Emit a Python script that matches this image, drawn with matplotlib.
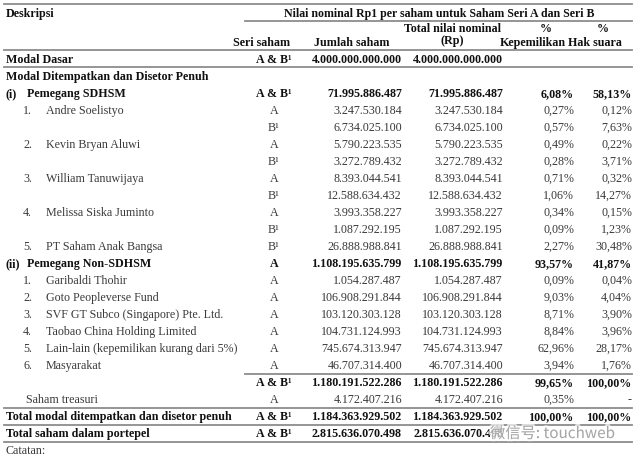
import matplotlib.pyplot as plt
import matplotlib.patheffects as pe

# table content
labels = ["Modal Dasar", "Modal Ditempatkan dan Disetor Penuh", "Pemegang SDHSM",
          "Andre Soelistyo", "", "Kevin Bryan Aluwi", "", "William Tanuwijaya", "",
          "Melissa Siska Juminto", "", "PT Saham Anak Bangsa", "Pemegang Non-SDHSM",
          "Garibaldi Thohir", "Goto Peopleverse Fund", "SVF GT Subco (Singapore) Pte. Ltd.",
          "Taobao China Holding Limited", "Lain-lain (kepemilikan kurang dari 5%)",
          "Masyarakat", "", "Saham treasuri", "Total modal ditempatkan dan disetor penuh",
          "Total saham dalam portepel", "Catatan:"]
numbers = ["", "", "(i)", "1.", "", "2.", "", "3.", "", "4.", "", "5.", "(ii)",
           "1.", "2.", "3.", "4.", "5.", "6.", "", "", "", "", ""]
seri = ["A & B¹", "", "A & B¹", "A", "B¹", "A", "B¹", "A", "B¹", "A", "B¹", "B¹", "A",
        "A", "A", "A", "A", "A", "A", "A & B¹", "A", "A & B¹", "A & B¹", ""]
jumlah = ["4.000.000.000.000", "", "71.995.886.487", "3.247.530.184", "6.734.025.100",
          "5.790.223.535", "3.272.789.432", "8.393.044.541", "12.588.634.432",
          "3.993.358.227", "1.087.292.195", "26.888.988.841", "1.108.195.635.799",
          "1.054.287.487", "106.908.291.844", "103.120.303.128", "104.731.124.993",
          "745.674.313.947", "46.707.314.400", "1.180.191.522.286", "4.172.407.216",
          "1.184.363.929.502", "2.815.636.070.498", ""]
total_rp = list(jumlah)
kepemilikan = ["", "", "6,08%", "0,27%", "0,57%", "0,49%", "0,28%", "0,71%", "1,06%",
               "0,34%", "0,09%", "2,27%", "93,57%", "0,09%", "9,03%", "8,71%", "8,84%",
               "62,96%", "3,94%", "99,65%", "0,35%", "100,00%", "", ""]
hak_suara = ["", "", "58,13%", "0,12%", "7,63%", "0,22%", "3,71%", "0,32%", "14,27%",
             "0,15%", "1,23%", "30,48%", "41,87%", "0,04%", "4,04%", "3,90%", "3,96%",
             "28,17%", "1,76%", "100,00%", "-", "100,00%", "", ""]

bold_rows = {0, 1, 2, 12, 19, 21, 22}
indented = {3, 5, 7, 9, 11, 13, 14, 15, 16, 17, 18}

W, H = 640, 459
fig = plt.figure(figsize=(W / 100, H / 100), dpi=100)
fig.patch.set_facecolor("white")
plt.rcParams['font.family'] = ['Liberation Serif', 'DejaVu Serif']
FS = 8.65


def txt(x, y, s, ha="left", bold=False, size=FS, **kw):
    fig.text(x / W, 1 - y / H, s, ha=ha, va="baseline", fontsize=size,
             fontweight="bold" if bold else "normal",
             color="#111111" if bold else "#3a3a3a", **kw)


def hline(y, x0=4, x1=632):
    fig.add_artist(plt.Line2D([x0 / W, x1 / W], [1 - y / H, 1 - y / H],
                              color="#8c8c8c", lw=1.3))


# header
txt(6, 17, "Deskripsi", bold=True)
txt(439, 17, "Nilai nominal Rp1 per saham untuk Saham Seri A dan Seri B", ha="center",
    bold=True, size=8.6)
txt(290, 46, "Seri saham", ha="right", bold=True)
txt(390, 46, "Jumlah saham", ha="right", bold=True)
txt(452, 32, "Total nilai nominal", ha="center", bold=True)
txt(452, 44, "(Rp)", ha="center", bold=True)
txt(546, 32, "%", ha="center", bold=True)
txt(533, 46, "Kepemilikan", ha="center", bold=True)
txt(603, 32, "%", ha="center", bold=True)
txt(595, 46, "Hak suara", ha="center", bold=True)

for ly, (x0, x1) in [(4, (4, 632)), (21, (245, 632)), (50, (4, 632)), (67, (4, 632)),
                     (374, (245, 632)), (408, (4, 632)), (425, (4, 632)), (442, (4, 632))]:
    hline(ly, x0, x1)

# body rows
for i in range(len(labels)):
    yc = 59 if i == 0 else 76 + 17 * (i - 1)
    yb = yc + 4
    b = i in bold_rows
    if numbers[i].startswith("("):
        txt(6, yb, numbers[i], bold=True)
        txt(27, yb, labels[i], bold=True)
    elif i in indented:
        txt(32, yb, numbers[i], ha="right")
        txt(46, yb, labels[i])
    elif i == 20:
        txt(26, yb, labels[i])
    else:
        txt(6, yb, labels[i], bold=b)
    txt(274, yb, seri[i], ha="center", bold=b)
    txt(402, yb, jumlah[i], ha="right", bold=b)
    txt(503, yb, total_rp[i], ha="right", bold=b)
    txt(574, yb, kepemilikan[i], ha="right", bold=b)
    txt(632, yb, hak_suara[i], ha="right", bold=b)

# watermark
fig.text(490 / W, 1 - 438 / H, "微信号: touchweb", ha="left", va="baseline",
         fontsize=11, color="#a0a0a0", alpha=0.9,
         family=['Noto Sans CJK SC', 'DejaVu Sans'],
         path_effects=[pe.withStroke(linewidth=3, foreground="white", alpha=0.7)])

fig.savefig("out.png", dpi=100, facecolor="white")
